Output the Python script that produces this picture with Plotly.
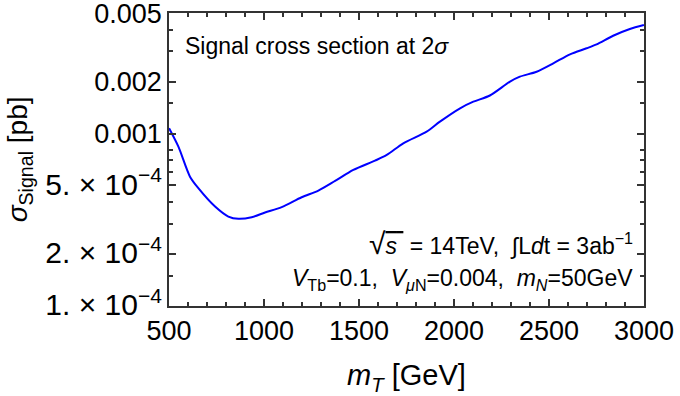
import plotly.graph_objects as go

# Data
mT = [500, 549, 610, 654, 742, 812, 865, 935, 1005, 1093, 1198, 1286, 1374, 1470,
      1584, 1646, 1733, 1856, 1926, 2032, 2102, 2189, 2295, 2347, 2435, 2523, 2611,
      2698, 2751, 2838, 2926, 3000]
sigma = [1.073e-3, 8.39e-4, 5.62e-4, 4.82e-4, 3.77e-4, 3.30e-4, 3.20e-4, 3.27e-4,
         3.48e-4, 3.74e-4, 4.27e-4, 4.67e-4, 5.31e-4, 6.15e-4, 6.96e-4, 7.51e-4,
         8.78e-4, 1.025e-3, 1.172e-3, 1.401e-3, 1.530e-3, 1.662e-3, 2.0e-3, 2.137e-3,
         2.284e-3, 2.555e-3, 2.882e-3, 3.123e-3, 3.293e-3, 3.693e-3, 4.04e-3, 4.26e-3]

x_ticks = [500, 1000, 1500, 2000, 2500, 3000]
x_minor = [v for v in range(500, 3001, 100) if v % 500 != 0]
y_ticks = [1e-4, 2e-4, 5e-4, 1e-3, 2e-3, 5e-3]
EXP = "<span style='font-size:30px'>{}. × 10<sup>−4</sup></span>"
y_ticktext = [EXP.format(1), EXP.format(2), EXP.format(5), "0.001", "0.002", "0.005"]
y_minor = [1.5e-4, 3e-4, 4e-4, 6e-4, 7e-4, 8e-4, 1.5e-3, 3e-3, 4e-3]

FONT = "Liberation Sans, Arial, sans-serif"
XR = [499.5, 3000.5]
YR = [-4.0005, -2.3007]
TK = "#333333"

fig = go.Figure()
fig.add_trace(go.Scatter(
    x=mT, y=sigma, mode="lines",
    line=dict(color="rgb(0,0,255)", width=2, shape="spline", smoothing=0.8),
    showlegend=False, hoverinfo="skip"))
# invisible helper trace so the minor-tick axes are drawn
fig.add_trace(go.Scatter(x=[mT[0]], y=[sigma[0]], xaxis="x2", yaxis="y2",
                         mode="markers", marker=dict(opacity=0),
                         showlegend=False, hoverinfo="skip"))

axis_common = dict(
    showline=True, linecolor=TK, linewidth=1.5, mirror="ticks", automargin=False,
    ticks="inside", tickcolor=TK, tickwidth=1.5, showgrid=False, zeroline=False,
    tickfont=dict(family=FONT, size=27, color="black"), ticklabeloverflow="allow",
)
minor_common = dict(
    ticklen=4, showticklabels=False, showline=False, mirror="ticks", automargin=False,
    ticks="inside", tickcolor=TK, tickwidth=1.5, showgrid=False, zeroline=False,
)

fig.update_layout(
    width=680, height=396,
    margin=dict(l=169, r=36, t=13, b=90),
    paper_bgcolor="white", plot_bgcolor="white",
    font=dict(family=FONT, color="black"),
    xaxis=dict(
        range=XR, tickvals=x_ticks, ticklen=7,
        title=dict(text="<i>m<sub>T</sub></i> [GeV]", font=dict(family=FONT, size=29), standoff=20),
        **axis_common),
    yaxis=dict(
        type="log", range=YR, tickvals=y_ticks, ticktext=y_ticktext, ticklen=7,
        **axis_common),
    xaxis2=dict(overlaying="x", anchor="y", side="bottom", range=XR, tickvals=x_minor,
                **minor_common),
    yaxis2=dict(overlaying="y", anchor="x", side="left", type="log", range=YR,
                tickvals=y_minor, **minor_common),
    annotations=[
        dict(text="<i>σ</i><sub>Signal</sub> [pb]", xref="paper", yref="paper",
             x=-0.314, y=0.50, xanchor="center", yanchor="middle", textangle=-90,
             showarrow=False, font=dict(family=FONT, size=28)),
        dict(text="Signal cross section at 2<i>σ</i>", xref="paper", yref="paper",
             x=0.0295, y=0.887, xanchor="left", yanchor="middle", showarrow=False,
             font=dict(family=FONT, size=23)),
        dict(text="<span style='font-size:30px'>√</span><span style='text-decoration:overline'><i>s</i> </span> = 14TeV,  ∫L<i>d</i>t = 3ab<sup>−1</sup>",
             xref="paper", yref="paper",
             x=0.982, y=0.215, xanchor="right", yanchor="middle", showarrow=False,
             font=dict(family=FONT, size=23)),
        dict(text="<i>V</i><sub>Tb</sub>=0.1,  <i>V</i><sub><i>μ</i>N</sub>=0.004,  <i>m<sub>N</sub></i>=50GeV",
             xref="paper", yref="paper",
             x=0.982, y=0.09, xanchor="right", yanchor="middle", showarrow=False,
             font=dict(family=FONT, size=23)),
    ],
)

fig.write_html("out.html")
